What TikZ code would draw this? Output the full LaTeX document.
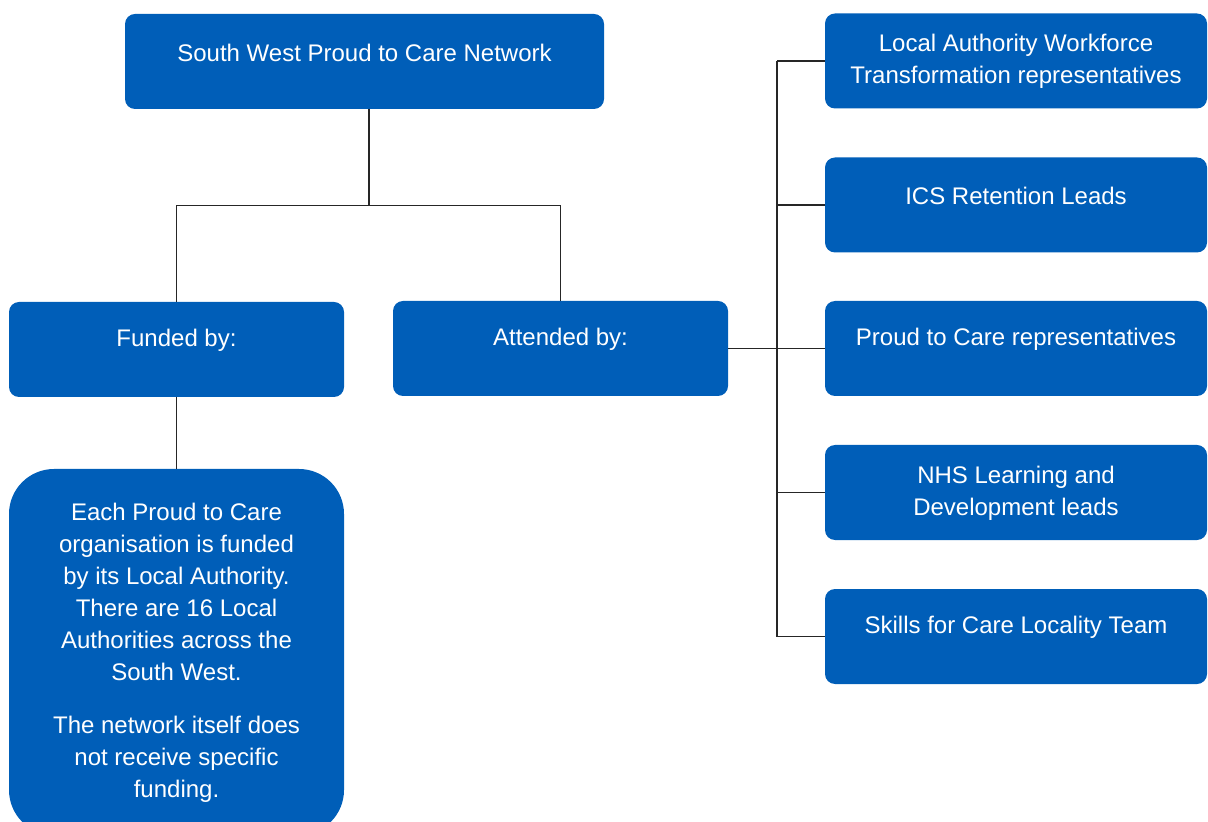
\documentclass[tikz,border=0pt]{standalone}
\usepackage{fontspec}
\setmainfont{Liberation Sans}
\usepackage{tikz}
\usetikzlibrary{positioning}
\definecolor{nhsblue}{HTML}{005EB8}

\begin{document}
\begin{tikzpicture}[x=0.5pt, y=-0.5pt,
Box/.style={fill=nhsblue, draw=none, rounded corners=5pt, inner sep=0pt, minimum height=47.5pt},
WideBox/.style={Box, minimum width=239.5pt},
MidBox/.style={Box, minimum width=167.5pt},
SideBox/.style={Box, minimum width=191pt},
NoteBox/.style={Box, rounded corners=22.5pt, minimum width=167.5pt, minimum height=183pt},
BoxText/.style={text=white, align=center, inner sep=0pt, font=\fontsize{12}{16}\selectfont},
Link/.style={draw=black!85, line width=0.65pt}
]
\useasboundingbox (0,0) rectangle (1208,822);
\clip (0,0) rectangle (1208,822);
%Nodes
\node[WideBox][label={[BoxText, yshift=4.5pt]center:{South West Proud to Care Network}}] (Top) at (364.5,61.5) {};
\node[MidBox][label={[BoxText, yshift=4.5pt]center:{Funded by:}}] (Funded) at (176.5,349.5) {};
\node[MidBox][label={[BoxText, yshift=4.5pt]center:{Attended by:}}] (Attended) at (560.5,348.5) {};
\node[NoteBox][label={[BoxText, yshift=-0.5pt]center:{Each Proud to Care\\organisation is funded\\by its Local Authority.\\There are 16 Local\\Authorities across the\\South West.\\[10.5pt]The network itself does\\not receive specific\\funding.}}] (Note) at (176.5,652) {};
\node[SideBox][label={[BoxText, yshift=0pt]center:{Local Authority Workforce\\Transformation representatives}}] (LAW) at (1016,61) {};
\node[SideBox][label={[BoxText, yshift=4.5pt]center:{ICS Retention Leads}}] (ICS) at (1016,205) {};
\node[SideBox][label={[BoxText, yshift=4.5pt]center:{Proud to Care representatives}}] (PTC) at (1016,348.5) {};
\node[SideBox][label={[BoxText, yshift=-0.5pt]center:{NHS Learning and\\Development leads}}] (NHS) at (1016,492.5) {};
\node[SideBox][label={[BoxText, yshift=4.5pt]center:{Skills for Care Locality Team}}] (SFC) at (1016,636.5) {};
\coordinate (Spine) at (777,0);
%Lines
\draw[Link] ([xshift=2.25pt]Top.south) -- ++(0,96) coordinate (Split);
\draw[Link] (Split) -| (Funded.north);
\draw[Link] (Split) -| (Attended.north);
\draw[Link] (Funded.south) -- (Note.north);
\draw[Link] (Attended.east) -- (Spine |- Attended.east);
\draw[Link] (Spine |- LAW.west) -- (Spine |- SFC.west);
\foreach \n in {LAW,ICS,PTC,NHS,SFC}
  \draw[Link] (Spine |- \n.west) -- (\n.west);
\end{tikzpicture}
\end{document}
